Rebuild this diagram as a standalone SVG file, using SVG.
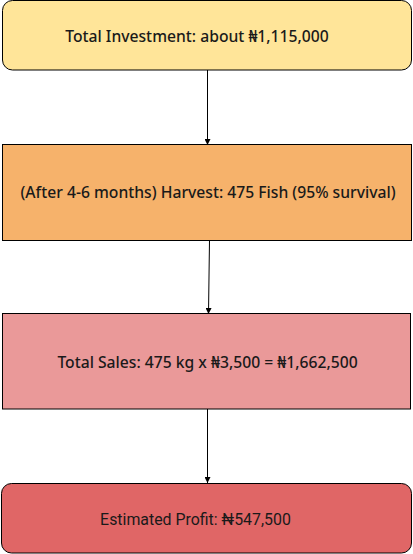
<svg xmlns="http://www.w3.org/2000/svg" width="413" height="554" viewBox="0 0 413 554">
<style>
.box{stroke:#000;stroke-width:1}
.t{font-family:"Noto Sans","Open Sans",sans-serif;font-weight:500;font-size:15.7px;fill:#1a1a1a;text-anchor:middle;dominant-baseline:central}
.r{font-family:Roboto,"Liberation Sans",sans-serif;font-size:15.9px;fill:#1a1a1a;text-anchor:middle;dominant-baseline:central}
.c{stroke:#000;stroke-width:1;fill:none;marker-end:url(#ah)}
</style>
<defs>
<marker id="ah" viewBox="0 0 6 6" refX="6" refY="3" markerWidth="6" markerHeight="6" markerUnits="userSpaceOnUse" orient="auto">
<path d="M0,0 L6,3 L0,6 Z" fill="#000"/>
</marker>
</defs>
<rect width="413" height="554" fill="#fff"/>
<g id="connectors">
<line class="c" x1="207.5" y1="70" x2="207.5" y2="145"/>
<line class="c" x1="209.5" y1="240" x2="208.5" y2="314"/>
<line class="c" x1="207.5" y1="409" x2="207.5" y2="483"/>
</g>
<g id="n1">
<rect class="box" x="2.5" y="0.5" width="409" height="69.5" rx="10" fill="#FFE599"/>
<text class="t" x="197" y="36">Total Investment: about ₦1,115,000</text>
</g>
<g id="n2">
<rect class="box" x="2.5" y="144.5" width="409" height="96" fill="#F6B26B"/>
<text class="t" x="208" y="192">(After 4-6 months) Harvest: 475 Fish (95% survival)</text>
</g>
<g id="n3">
<rect class="box" x="2.5" y="313.5" width="408" height="95.5" fill="#EA9999"/>
<text class="t" x="207.5" y="362">Total Sales: 475 kg x ₦3,500 = ₦1,662,500</text>
</g>
<g id="n4">
<rect class="box" x="1.5" y="483.5" width="410" height="69.5" rx="10" fill="#E06666"/>
<text class="r" x="195.5" y="519">Estimated Profit: ₦547,500</text>
</g>
</svg>
